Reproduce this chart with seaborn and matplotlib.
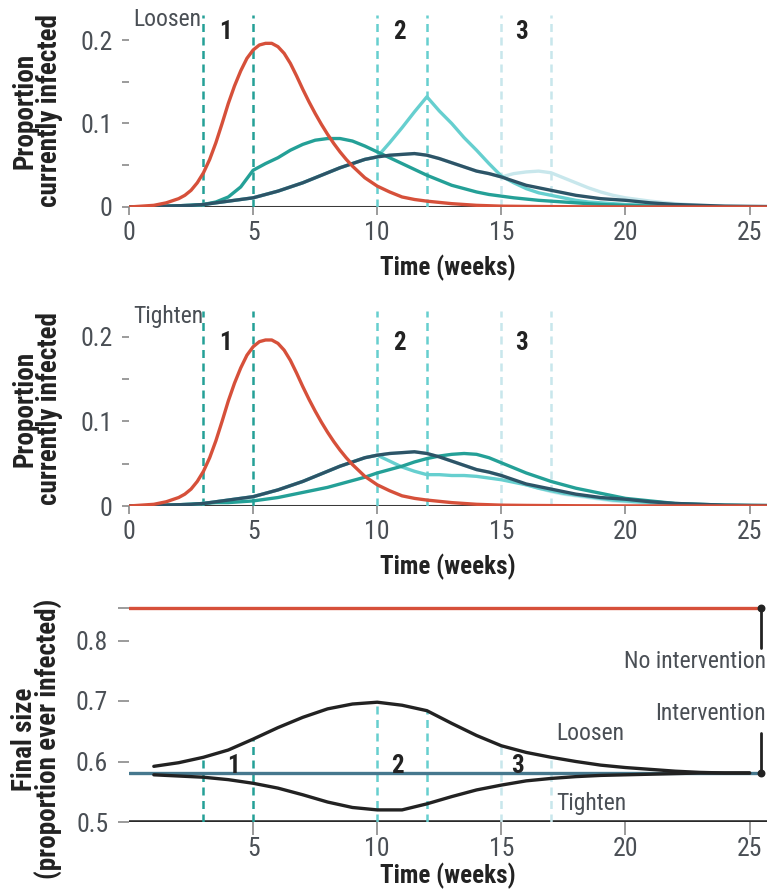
import numpy as np
import matplotlib
matplotlib.use("Agg")
import matplotlib.pyplot as plt
import seaborn as sns

# ---------------- data ----------------
weeks = [0, 0.5, 1, 1.5, 2, 2.5, 3, 3.5, 4, 4.5, 5, 5.5, 6, 6.5, 7, 7.5, 8, 8.5, 9, 9.5,
         10, 10.5, 11, 11.5, 12, 12.5, 13, 13.5, 14, 14.5, 15, 15.5, 16, 16.5, 17, 17.5,
         18, 18.5, 19, 19.5, 20, 21, 22, 23, 24, 25, 26]

red_weeks = [0, 0.5, 1, 1.5, 2, 2.25, 2.5, 2.75, 3, 3.25, 3.5, 3.75, 4, 4.25, 4.5, 4.75,
             5, 5.25, 5.5, 5.75, 6, 6.25, 6.5, 6.75, 7, 7.25, 7.5, 7.75, 8, 8.25, 8.5,
             8.75, 9, 9.5, 10, 10.5, 11, 11.5, 12, 13, 14, 15, 16, 18, 20, 26]
no_intervention = [0, 0.001, 0.002, 0.005, 0.010, 0.014, 0.020, 0.029, 0.041, 0.057,
                   0.077, 0.100, 0.124, 0.145, 0.163, 0.178, 0.188, 0.194, 0.196, 0.196,
                   0.192, 0.184, 0.172, 0.157, 0.141, 0.126, 0.112, 0.099, 0.087, 0.076,
                   0.066, 0.057, 0.049, 0.035, 0.025, 0.018, 0.012, 0.009, 0.007, 0.004,
                   0.002, 0.001, 0.0007, 0.0003, 0.0001, 0]

constant = [0, 0, 0.0005, 0.001, 0.0015, 0.002, 0.003, 0.005, 0.007, 0.009, 0.011, 0.015,
            0.019, 0.024, 0.029, 0.035, 0.041, 0.047, 0.052, 0.057, 0.060, 0.062, 0.063,
            0.064, 0.062, 0.058, 0.053, 0.048, 0.043, 0.040, 0.036, 0.031, 0.026, 0.023,
            0.020, 0.017, 0.014, 0.012, 0.010, 0.009, 0.008, 0.005, 0.003, 0.002, 0.001,
            0.0007, 0.0005]

loosen_1 = [0, 0, 0.0005, 0.001, 0.0015, 0.002, 0.003, 0.006, 0.012, 0.024, 0.044, 0.052,
            0.059, 0.068, 0.075, 0.080, 0.082, 0.082, 0.079, 0.073, 0.066, 0.059, 0.052,
            0.045, 0.038, 0.032, 0.026, 0.022, 0.018, 0.015, 0.013, 0.011, 0.0095, 0.008,
            0.007, 0.006, 0.005, 0.004, 0.003, 0.0025, 0.002, 0.0012, 0.0008, 0.0005,
            0.0003, 0.0002, 0.0001]

loosen_2 = [0, 0, 0.0005, 0.001, 0.0015, 0.002, 0.003, 0.005, 0.007, 0.009, 0.011, 0.015,
            0.019, 0.024, 0.029, 0.035, 0.041, 0.047, 0.052, 0.057, 0.060, 0.077, 0.095,
            0.114, 0.132, 0.115, 0.100, 0.083, 0.068, 0.052, 0.037, 0.029, 0.022, 0.017,
            0.014, 0.011, 0.008, 0.006, 0.005, 0.004, 0.003, 0.002, 0.001, 0.0006, 0.0004,
            0.0002, 0.0001]

loosen_3 = [0, 0, 0.0005, 0.001, 0.0015, 0.002, 0.003, 0.005, 0.007, 0.009, 0.011, 0.015,
            0.019, 0.024, 0.029, 0.035, 0.041, 0.047, 0.052, 0.057, 0.060, 0.062, 0.063,
            0.064, 0.062, 0.058, 0.053, 0.048, 0.043, 0.040, 0.036, 0.040, 0.042, 0.043,
            0.041, 0.035, 0.029, 0.023, 0.018, 0.014, 0.011, 0.007, 0.004, 0.002, 0.0012,
            0.0007, 0.0005]

tighten_1 = [0, 0, 0.0005, 0.001, 0.0015, 0.002, 0.003, 0.004, 0.004, 0.005, 0.006, 0.008,
             0.010, 0.013, 0.016, 0.019, 0.022, 0.026, 0.030, 0.034, 0.039, 0.043, 0.047,
             0.052, 0.056, 0.059, 0.061, 0.062, 0.061, 0.057, 0.051, 0.045, 0.039, 0.034,
             0.029, 0.025, 0.021, 0.018, 0.015, 0.012, 0.009, 0.006, 0.003, 0.002, 0.001,
             0.0007, 0.0005]

tighten_2 = [0, 0, 0.0005, 0.001, 0.0015, 0.002, 0.003, 0.005, 0.007, 0.009, 0.011, 0.015,
             0.019, 0.024, 0.029, 0.035, 0.041, 0.047, 0.052, 0.057, 0.060, 0.053, 0.046,
             0.041, 0.037, 0.037, 0.036, 0.036, 0.035, 0.033, 0.031, 0.028, 0.025, 0.021,
             0.018, 0.015, 0.013, 0.011, 0.009, 0.007, 0.006, 0.004, 0.002, 0.001, 0.0007,
             0.0004, 0.0002]

tighten_3 = [0, 0, 0.0005, 0.001, 0.0015, 0.002, 0.003, 0.005, 0.007, 0.009, 0.011, 0.015,
             0.019, 0.024, 0.029, 0.035, 0.041, 0.047, 0.052, 0.057, 0.060, 0.062, 0.063,
             0.064, 0.062, 0.058, 0.053, 0.048, 0.043, 0.040, 0.036, 0.030, 0.025, 0.021,
             0.017, 0.014, 0.012, 0.010, 0.008, 0.006, 0.005, 0.003, 0.002, 0.001, 0.0006,
             0.0004, 0.0002]

# Final size vs. timing of change
timing_weeks = list(range(1, 26))
final_loosen = [0.592, 0.598, 0.607, 0.619, 0.637, 0.656, 0.673, 0.687, 0.695, 0.698,
                0.693, 0.684, 0.663, 0.643, 0.626, 0.615, 0.607, 0.600, 0.594, 0.590,
                0.587, 0.584, 0.582, 0.581, 0.581]
final_tighten = [0.578, 0.576, 0.574, 0.570, 0.564, 0.556, 0.545, 0.533, 0.524, 0.520,
                 0.520, 0.530, 0.542, 0.553, 0.561, 0.568, 0.572, 0.575, 0.577, 0.578,
                 0.579, 0.580, 0.581, 0.581, 0.581]
final_no_intervention = 0.854
final_intervention = 0.581
final_line_weeks = [0, 25.47]

change_windows = [(3, 5), (10, 12), (15, 17)]
window_labels = ["1", "2", "3"]

# ---------------- style ----------------
sns.set_theme(style="white")
plt.rcParams['font.family'] = ['Roboto Condensed', 'Liberation Sans Narrow', 'Roboto',
                               'DejaVu Sans']

RED = "#d6503a"
TEAL = "#24a097"
LTEAL = "#66cfcf"
LLTEAL = "#c8e7ec"
NAVY = "#2d5467"
BLUE = "#46788e"
BLACK = "#222222"
TXT = "#4a4f55"
TICK = "#8a8a8a"
win_colors = [TEAL, LTEAL, LLTEAL]

FS = 18.5      # tick labels
XLFS = 18      # x label
YLFS = 19.5    # y label
TFS = 17       # annotation text
NFS = 18       # window numbers
LW = 2.4

fig = plt.figure(figsize=(7.67, 8.94), dpi=100)
W, H = 767, 894
XMAX = 25.7


def add_ax(bottom_px, height_px):
    return fig.add_axes([129 / W, 1 - bottom_px / H, (W - 129) / W, height_px / H])


ax1 = add_ax(207, 0.23 * 835)
ax2 = add_ax(506, 0.23 * 847)
ax3 = add_ax(822, 0.37 * 605)


def style_common(ax, labelpad=7):
    for s in ["left", "right", "top", "bottom"]:
        ax.spines[s].set_visible(False)
    ax.set_xlim(0, XMAX)
    ax.tick_params(axis="both", colors=TICK, labelcolor=TXT, labelsize=FS, width=1.2)
    ax.tick_params(axis="y", length=5, pad=7, left=True)
    ax.tick_params(axis="x", length=6, pad=4, bottom=True)
    ax.set_xlabel("Time (weeks)", fontsize=XLFS, fontweight="bold", color=BLACK,
                  labelpad=labelpad)


curves_top = [(weeks, loosen_3, LLTEAL), (weeks, loosen_2, LTEAL), (weeks, loosen_1, TEAL),
              (weeks, constant, NAVY), (red_weeks, no_intervention, RED)]
curves_mid = [(weeks, tighten_3, LLTEAL), (weeks, tighten_2, LTEAL), (weeks, tighten_1, TEAL),
              (weeks, constant, NAVY), (red_weeks, no_intervention, RED)]

for ax, curves, label in [(ax1, curves_top, "Loosen"), (ax2, curves_mid, "Tighten")]:
    style_common(ax)
    ax.set_ylim(0, 0.23)
    ax.axhline(0, color="#3a3a3a", lw=2.2, zorder=1)
    for (a, b), c in zip(change_windows, win_colors):
        for xv in (a, b):
            ax.axvline(xv, color=c, lw=1.8, ls=(0, (3.2, 2.2)), zorder=1.5)
    for x, y, c in curves:
        sns.lineplot(x=x, y=y, ax=ax, color=c, lw=LW, estimator=None, sort=False,
                     legend=False, zorder=3)
    ax.set_xticks([0, 5, 10, 15, 20, 25])
    ax.set_xticklabels(["0", "5", "10", "15", "20", "25"])
    ax.set_yticks([0, 0.05, 0.1, 0.15, 0.2])
    ax.set_yticklabels(["0", "", "0.1", "", "0.2"])
    ax.set_ylabel("Proportion\ncurrently infected", fontsize=YLFS, fontweight="bold",
                  color=BLACK, linespacing=0.85)
    ax.yaxis.set_label_coords(-0.104, 0.5)
    ax.text(0.16, 0.224, label, fontsize=TFS, color=TXT, ha="left", va="center")

num_y = {ax1: 0.210, ax2: 0.193}
num_x = [3.9, 10.9, 15.8]
for ax in (ax1, ax2):
    for xv, t in zip(num_x, window_labels):
        ax.text(xv, num_y[ax], t, fontsize=NFS, fontweight="bold", color=BLACK,
                ha="center", va="center")

# ---------------- bottom panel ----------------
style_common(ax3, labelpad=1)
ax3.set_ylim(0.5, 0.87)
ax3.axhline(0.5, color="#2a2a2a", lw=2.6, zorder=1)
for (a, b), c in zip(change_windows, win_colors):
    for xv in (a, b):
        top = final_loosen[timing_weeks.index(xv)]
        ax3.plot([xv, xv], [0.5, top], color=c, lw=1.8, ls=(0, (3.2, 2.2)), zorder=1.5)

sns.lineplot(x=final_line_weeks, y=[final_no_intervention] * 2, ax=ax3, color=RED, lw=LW,
             estimator=None, legend=False, zorder=3)
sns.lineplot(x=final_line_weeks, y=[final_intervention] * 2, ax=ax3, color=BLUE, lw=LW,
             estimator=None, legend=False, zorder=3)
sns.lineplot(x=timing_weeks, y=final_loosen, ax=ax3, color=BLACK, lw=LW,
             estimator=None, legend=False, zorder=4)
sns.lineplot(x=timing_weeks, y=final_tighten, ax=ax3, color=BLACK, lw=LW,
             estimator=None, legend=False, zorder=4)

xe = final_line_weeks[1]
ax3.plot([xe, xe], [final_no_intervention, 0.788], color=BLACK, lw=2, zorder=5)
ax3.plot([xe, xe], [0.647, final_intervention], color=BLACK, lw=2, zorder=5)
ax3.scatter([xe, xe], [final_no_intervention, final_intervention], s=22, color=BLACK,
            zorder=6, clip_on=False)
ax3.text(25.66, 0.766, "No intervention", fontsize=TFS, color=TXT, ha="right",
         va="center", clip_on=False)
ax3.text(25.66, 0.680, "Intervention", fontsize=TFS, color=TXT, ha="right",
         va="center", clip_on=False)
ax3.text(17.2, 0.647, "Loosen", fontsize=TFS, color=TXT, ha="left", va="center")
ax3.text(17.2, 0.531, "Tighten", fontsize=TFS, color=TXT, ha="left", va="center")
for xv, t in zip([4.2, 10.8, 15.65], window_labels):
    ax3.text(xv, 0.593, t, fontsize=NFS, fontweight="bold", color=BLACK, ha="center",
             va="center")

ax3.set_xticks([5, 10, 15, 20, 25])
ax3.set_xticklabels(["5", "10", "15", "20", "25"])
ax3.tick_params(axis="x", length=9, pad=2)
ax3.set_yticks([0.5, 0.6, 0.7, 0.8, final_no_intervention])
ax3.set_yticklabels(["0.5", "0.6", "0.7", "0.8", ""])
ax3.tick_params(axis="y", length=8, pad=7)
ax3.set_ylabel("Final size\n(proportion ever infected)", fontsize=YLFS, fontweight="bold",
               color=BLACK, linespacing=0.85)
ax3.yaxis.set_label_coords(-0.104, 0.37)

fig.savefig("out.png", dpi=100)
